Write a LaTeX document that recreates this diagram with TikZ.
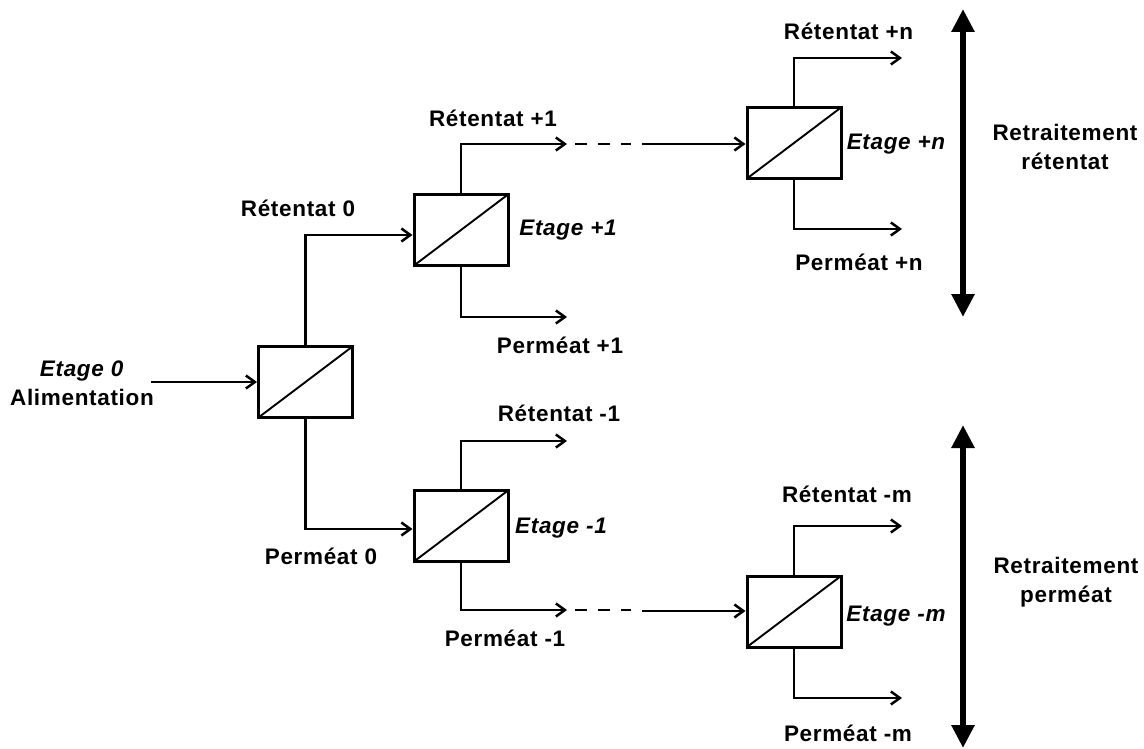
\documentclass[tikz,border=0pt]{standalone}
\usepackage{fontspec}
\setmainfont{Liberation Sans}[LetterSpace=3]
\usetikzlibrary{arrows.meta}
\begin{document}
\begin{tikzpicture}[x=1pt,y=-1pt,
  every node/.style={font=\fontsize{22.5}{29}\selectfont\bfseries},
  module/.style={draw, line width=3pt, rectangle, minimum width=94pt, minimum height=71pt, inner sep=0pt,
    path picture={\draw[line width=1.9pt] (path picture bounding box.south west) -- (path picture bounding box.north east);}},
  flow/.style={line width=2.5pt, -{Straight Barb[length=9pt,width=13pt]}},
  dashline/.style={line width=2.5pt, dash pattern=on 12pt off 11pt},
  bigarrow/.style={line width=6.5pt, {Triangle[length=23pt,width=22pt]}-{Triangle[length=23pt,width=22pt]}},
  lbl/.style={inner sep=0pt},
  stage/.style={inner sep=0pt, font=\fontsize{22.5}{29}\selectfont\bfseries\itshape}
]
\useasboundingbox (0,0) rectangle (1144,749);

% modules
\node[module] (b0) at (305.5,382) {};
\node[module] (b1) at (461,230) {};
\node[module] (bm1) at (461,526) {};
\node[module] (bn) at (794,143) {};
\node[module] (bm) at (794,611.5) {};

% free ends
\coordinate (in0) at (151,382);
\coordinate (r1e) at (567,144);
\coordinate (d1a) at (575,144);
\coordinate (d1b) at (631,144);
\coordinate (s1) at (642,144);
\coordinate (p1e) at (567,317);
\coordinate (rm1e) at (567,441);
\coordinate (pm1e) at (567,610);
\coordinate (d2a) at (575,610);
\coordinate (d2b) at (631,610);
\coordinate (s2) at (642,611);
\coordinate (rne) at (902,58);
\coordinate (pne) at (902,229);
\coordinate (rme) at (902,526);
\coordinate (pme) at (902,698);
\coordinate (ta1) at (963,9);
\coordinate (ta2) at (963,317);
\coordinate (tb1) at (963,425);
\coordinate (tb2) at (963,748);

% connectors
\draw[flow] (in0) -- (b0.west);
\draw[flow] (b0.north) |- ([yshift=-5pt]b1.west);
\draw[flow] (b0.south) |- ([yshift=-3pt]bm1.west);
\draw[flow] (b1.north) |- (r1e);
\draw[dashline] (d1a) -- (d1b);
\draw[flow] (s1) -- (s1 -| bn.west);
\draw[flow] (b1.south) |- (p1e);
\draw[flow] (bm1.north) |- (rm1e);
\draw[flow] (bm1.south) |- (pm1e);
\draw[dashline] (d2a) -- (d2b);
\draw[flow] (s2) -- (s2 -| bm.west);
\draw[flow] (bn.north) |- (rne);
\draw[flow] (bn.south) |- (pne);
\draw[flow] (bm.north) |- (rme);
\draw[flow] (bm.south) |- (pme);
\draw[bigarrow] (ta1) -- (ta2);
\draw[bigarrow] (tb1) -- (tb2);

% labels
\node[lbl, align=center] (l0) at (82,383) {\textit{Etage 0}\\Alimentation};
\node[lbl] (lr0) at (298,208) {Rétentat 0};
\node[lbl] (lp0) at (321,556) {Perméat 0};
\node[lbl] (lr1) at (493,118) {Rétentat +1};
\node[stage] (le1) at (568,230) {Etage +1};
\node[lbl] (lp1) at (560,345) {Perméat +1};
\node[lbl] (lrm1) at (559,413) {Rétentat -1};
\node[stage] (lem1) at (561,528) {Etage -1};
\node[lbl] (lpm1) at (505,638) {Perméat -1};
\node[lbl] (lrn) at (848.5,31) {Rétentat +n};
\node[stage] (len) at (896,144) {Etage +n};
\node[lbl] (lpn) at (859,262) {Perméat +n};
\node[lbl] (lrm) at (847,494) {Rétentat -m};
\node[stage] (lem) at (896,616) {Etage -m};
\node[lbl] (lpm) at (848,733) {Perméat -m};
\node[lbl, align=center] (trr) at (1065,147) {Retraitement\\rétentat};
\node[lbl, align=center] (trp) at (1066,582) {Retraitement\\perméat};
\end{tikzpicture}
\end{document}
